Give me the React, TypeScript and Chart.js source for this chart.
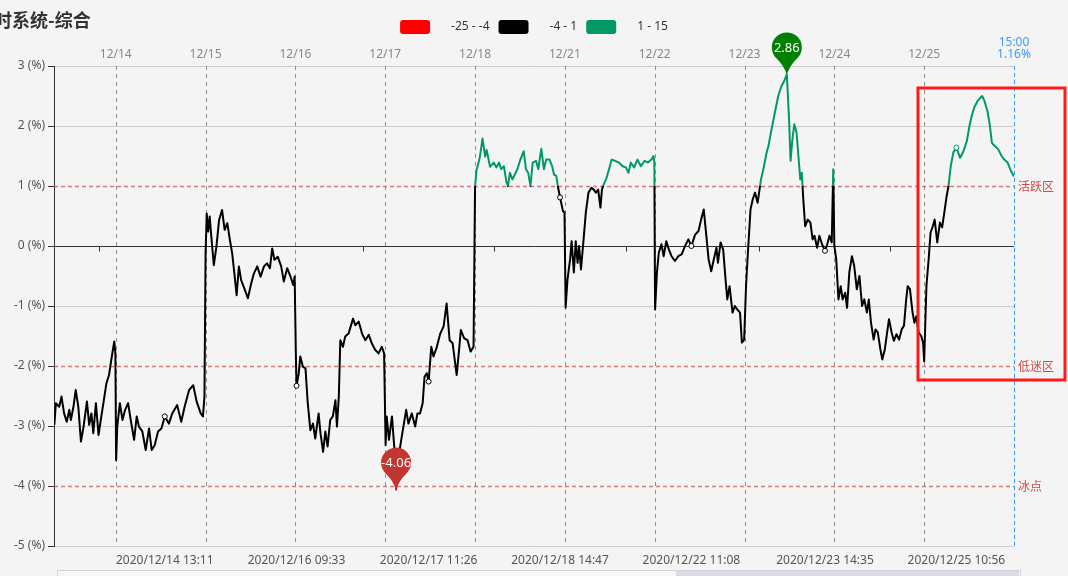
import React, { useEffect, useRef } from "react";
import { Chart, registerables } from "chart.js";

Chart.register(...registerables);

const FONT = '"Noto Sans", "Noto Sans CJK SC", sans-serif';
const CJK = '"Noto Sans CJK SC", "Noto Sans", sans-serif';

const titleText = "时系统-综合";

// top axis: trading-day starts (minutes since 12/14 09:30, 240 trading minutes per day)
const dayLabels = ["12/14", "12/15", "12/16", "12/17", "12/18", "12/21", "12/22", "12/23", "12/24", "12/25"];
const dayStarts = [0, 240, 480, 720, 960, 1200, 1440, 1680, 1920, 2160];

// bottom axis
const tickTimes = [131, 483, 836, 1187, 1538, 1895, 2246];
const tickLabels = [
  "2020/12/14 13:11",
  "2020/12/16 09:33",
  "2020/12/17 11:26",
  "2020/12/18 14:47",
  "2020/12/22 11:08",
  "2020/12/23 14:35",
  "2020/12/25 10:56",
];

// visual map pieces
const pieceLabels = ["-25 - -4", "-4 - 1", "1 - 15"];
const pieceBounds = [-25, -4, 1, 15];
const pieceColors = ["#ff0000", "#000000", "#009966"];

// reference levels
const levelValues = [1, -2, -4];
const levelLabels = ["活跃区", "低迷区", "冰点"];

const endTime = "15:00";
const xMin = -165;
const xMax = 2400;

// series: minute index and value (%)
const minuteIndex = [
  // 12/11 (tail)
  -164, -160, -151, -145, -138, -131, -124, -120, -113, -107, -100, -93, -86, -77, -71, -65, -60, -53, -46, -40, -33, -25, -18, -12, -4, -1,
  // 12/14
  1, 4, 11, 18, 25, 33, 40, 49, 56, 62, 71, 80, 89, 96, 104, 113, 122, 131, 142, 151, 164, 175, 184, 196, 207, 216, 227, 233, 237,
  // 12/15
  240, 243, 247, 251, 255, 262, 269, 276, 284, 291, 298, 305, 311, 317, 323, 329, 335, 342, 353, 362, 369, 378, 387, 396, 404, 412, 418, 424, 433, 442, 449, 458, 467, 474, 478,
  // 12/16
  481, 483, 489, 493, 500, 507, 513, 520, 527, 533, 542, 547, 554, 560, 566, 573, 580, 587, 591, 596, 600, 607, 613, 622, 634, 640, 649, 658, 667, 676, 684, 693, 702, 711, 717,
  // 12/17
  721, 724, 730, 738, 744, 749, 760, 767, 776, 782, 791, 800, 806, 813, 820, 825, 831, 836, 843, 849, 858, 867, 876, 884, 892, 900, 907, 911, 918, 922, 931, 940, 948, 956,
  // 12/18
  960, 964, 969, 973, 980, 987, 991, 1000, 1010, 1017, 1024, 1030, 1037, 1044, 1048, 1053, 1060, 1066, 1073, 1081, 1090, 1096, 1102, 1108, 1114, 1123, 1129, 1137, 1144, 1150, 1159, 1166, 1171, 1177, 1182, 1187, 1195, 1199,
  // 12/21
  1202, 1207, 1214, 1218, 1224, 1229, 1234, 1238, 1243, 1250, 1256, 1263, 1271, 1277, 1283, 1289, 1295, 1299, 1304, 1310, 1318, 1325, 1334, 1345, 1354, 1363, 1370, 1376, 1385, 1394, 1403, 1413, 1422, 1431, 1437, 1439,
  // 12/22
  1441, 1446, 1451, 1458, 1464, 1471, 1478, 1485, 1494, 1503, 1512, 1521, 1530, 1538, 1548, 1557, 1564, 1571, 1578, 1584, 1591, 1598, 1605, 1609, 1616, 1623, 1630, 1634, 1640, 1648, 1654, 1661, 1668, 1673, 1679,
  // 12/23
  1684, 1688, 1696, 1702, 1708, 1715, 1724, 1732, 1738, 1744, 1752, 1761, 1770, 1779, 1786, 1793, 1799, 1803, 1808, 1813, 1819, 1824, 1829, 1833, 1837, 1842, 1849, 1856, 1862, 1867, 1874, 1880, 1887, 1895, 1901, 1907, 1913, 1917,
  // 12/24
  1920, 1925, 1931, 1937, 1942, 1949, 1954, 1960, 1967, 1973, 1980, 1987, 1994, 2000, 2007, 2012, 2018, 2025, 2030, 2036, 2043, 2048, 2055, 2061, 2066, 2073, 2079, 2086, 2093, 2100, 2106, 2112, 2116, 2122, 2129, 2134, 2139, 2145, 2152, 2157,
  // 12/25
  2160, 2166, 2172, 2177, 2183, 2188, 2195, 2202, 2208, 2215, 2220, 2225, 2231, 2238, 2246, 2256, 2265, 2274, 2281, 2287, 2294, 2303, 2310, 2315, 2321, 2329, 2335, 2341, 2348, 2358, 2367, 2374, 2383, 2392, 2400,
];

const indexValues = [
  // 12/11 (tail)
  -2.98, -2.62, -2.68, -2.51, -2.79, -2.93, -2.73, -2.9, -2.68, -2.4, -2.68, -3.26, -3.01, -2.59, -2.98, -2.79, -3.12, -2.62, -3.15, -2.9, -2.62, -2.29, -2.15, -1.9, -1.59, -1.79,
  // 12/14
  -3.57, -3.01, -2.62, -2.9, -2.73, -2.62, -2.9, -3.23, -2.84, -3.01, -3.09, -3.4, -3.04, -3.4, -3.32, -3.09, -3.04, -2.84, -2.96, -2.79, -2.65, -2.93, -2.68, -2.4, -2.32, -2.59, -2.79, -2.84, -2.51,
  // 12/15
  -0.12, 0.54, 0.24, 0.49, 0.18, -0.32, -0.01, 0.43, 0.6, 0.27, 0.38, 0.1, -0.12, -0.46, -0.82, -0.34, -0.57, -0.68, -0.87, -0.62, -0.46, -0.34, -0.51, -0.34, -0.29, -0.37, -0.04, -0.23, -0.18, -0.34, -0.59, -0.37, -0.51, -0.65, -0.51,
  // 12/16
  -1.73, -2.33, -2.12, -1.84, -2.01, -2.04, -2.62, -3.07, -2.96, -3.21, -2.79, -3.12, -3.43, -3.09, -3.34, -2.9, -2.84, -2.57, -3.01, -2.51, -1.57, -1.68, -1.51, -1.46, -1.21, -1.32, -1.26, -1.46, -1.57, -1.48, -1.62, -1.73, -1.79, -1.68, -1.79,
  // 12/17
  -3.32, -2.84, -3.23, -2.84, -3.34, -4.06, -3.34, -3.07, -2.73, -2.96, -2.79, -3.01, -2.79, -2.79, -2.62, -2.18, -2.12, -2.26, -1.68, -1.84, -1.68, -1.46, -1.34, -0.96, -1.57, -1.62, -1.96, -2.15, -1.68, -1.4, -1.54, -1.57, -1.76, -1.68,
  // 12/18
  0.99, 1.27, 1.38, 1.49, 1.79, 1.49, 1.6, 1.32, 1.39, 1.31, 1.39, 1.28, 1.33, 1.06, 1.0, 1.22, 1.11, 1.19, 1.28, 1.44, 1.58, 1.28, 1.22, 1.0, 1.39, 1.42, 1.28, 1.62, 1.28, 1.44, 1.44, 1.33, 1.19, 1.17, 0.97, 0.81, 0.58, 0.56,
  // 12/21
  -1.03, -0.56, -0.22, 0.08, -0.44, 0.08, -0.28, 0.0, -0.39, 0.11, 0.56, 0.89, 0.97, 0.94, 0.89, 0.94, 0.64, 0.94, 1.03, 1.11, 1.28, 1.44, 1.42, 1.39, 1.33, 1.31, 1.22, 1.39, 1.31, 1.44, 1.33, 1.42, 1.39, 1.44, 1.5, 1.39,
  // 12/22
  -1.06, -0.44, -0.11, 0.03, -0.17, 0.08, -0.06, -0.17, -0.25, -0.17, -0.14, 0.0, 0.11, 0.0, 0.19, 0.25, 0.44, 0.61, 0.17, -0.22, -0.42, -0.22, -0.03, -0.28, 0.06, -0.06, -0.61, -0.89, -0.67, -1.11, -1.0, -1.06, -1.11, -1.61, -1.56,
  // 12/23
  -0.67, -0.22, 0.61, 0.78, 0.89, 0.72, 1.11, 1.33, 1.53, 1.67, 1.94, 2.22, 2.5, 2.67, 2.75, 2.86, 2.11, 1.42, 1.78, 2.03, 1.89, 1.5, 1.11, 1.22, 0.78, 0.33, 0.44, 0.39, 0.11, 0.17, -0.03, 0.17, 0.03, -0.08, 0.03, 0.17, 0.06, 1.28,
  // 12/24
  0.0, -0.22, -0.89, -0.67, -0.89, -0.78, -1.03, -0.44, -0.17, -0.33, -0.72, -0.5, -1.0, -0.89, -1.11, -0.89, -1.28, -1.56, -1.39, -1.44, -1.72, -1.89, -1.72, -1.44, -1.22, -1.44, -1.58, -1.47, -1.56, -1.39, -1.33, -0.89, -0.67, -0.72, -1.11, -1.28, -1.17, -1.44, -1.5, -1.61,
  // 12/25
  -1.92, -0.67, -0.22, 0.22, 0.33, 0.44, 0.06, 0.39, 0.31, 0.61, 0.83, 1.0, 1.33, 1.56, 1.64, 1.47, 1.58, 1.75, 2.0, 2.17, 2.31, 2.42, 2.47, 2.5, 2.42, 2.25, 2.03, 1.72, 1.67, 1.61, 1.5, 1.44, 1.39, 1.25, 1.16,
];

const BG = "#f4f4f4";
const DAY_LINE = "#8f8f8f";
const LEVEL_LINE = "rgba(205, 80, 80, 0.75)";
const LEVEL_TEXT = "#d24a4a";
const BLUE = "#3a9bff";
const PIN_MIN = "#c23531";
const PIN_MAX = "#008000";

function colorFor(v: number) {
  for (let i = 0; i < pieceColors.length; i++) {
    if (v <= pieceBounds[i + 1]) return pieceColors[i];
  }
  return pieceColors[pieceColors.length - 1];
}

function drawPin(ctx: CanvasRenderingContext2D, x: number, y: number, color: string, text: string) {
  const r = 15;
  const cy = y - 27;
  const phi = 0.72;
  ctx.save();
  ctx.fillStyle = color;
  ctx.beginPath();
  ctx.arc(x, cy, r, Math.PI / 2 + phi, Math.PI / 2 - phi + Math.PI * 2);
  ctx.quadraticCurveTo(x + 3, cy + r + 3, x, y);
  ctx.quadraticCurveTo(x - 3, cy + r + 3, x - r * Math.sin(phi), cy + r * Math.cos(phi));
  ctx.closePath();
  ctx.fill();
  ctx.fillStyle = "#ffffff";
  ctx.font = `13px ${FONT}`;
  ctx.textAlign = "center";
  ctx.textBaseline = "middle";
  ctx.fillText(text, x, cy + 1);
  ctx.restore();
}

const decorPlugin = {
  id: "decor",
  beforeDraw(chart: any) {
    const { ctx, width, height } = chart;
    ctx.save();
    ctx.fillStyle = BG;
    ctx.fillRect(0, 0, width, height);

    // title (cropped at left edge)
    ctx.fillStyle = "#333333";
    ctx.font = `bold 18px ${CJK}`;
    ctx.textAlign = "left";
    ctx.textBaseline = "middle";
    ctx.fillText(titleText, -6, 20);

    // legend
    ctx.font = `12px ${FONT}`;
    const boxW = 30, boxH = 14, gapBT = 21, gapTB = 9;
    const widths = pieceLabels.map((l) => ctx.measureText(l).width);
    let total = 0;
    widths.forEach((w, i) => {
      total += boxW + gapBT + w + (i < widths.length - 1 ? gapTB : 0);
    });
    let x = (width - total) / 2;
    const ly = 27;
    pieceLabels.forEach((l, i) => {
      ctx.fillStyle = pieceColors[i];
      ctx.beginPath();
      if ((ctx as any).roundRect) (ctx as any).roundRect(x, ly - boxH / 2, boxW, boxH, 3);
      else ctx.rect(x, ly - boxH / 2, boxW, boxH);
      ctx.fill();
      x += boxW + gapBT;
      ctx.fillStyle = "#333333";
      ctx.textBaseline = "middle";
      ctx.fillText(l, x, ly);
      x += widths[i] + gapTB;
    });
    ctx.restore();
  },
  beforeDatasetsDraw(chart: any) {
    const { ctx, chartArea: a, scales } = chart;
    const ys = scales.y;
    const xs = scales.x;
    const xt = scales.xTop;
    ctx.save();
    // day separator lines (dashed grey) at top-axis ticks
    ctx.strokeStyle = DAY_LINE;
    ctx.lineWidth = 1;
    ctx.setLineDash([4, 4]);
    dayStarts.forEach((t) => {
      const px = Math.round(xt.getPixelForValue(t)) + 0.5;
      ctx.beginPath();
      ctx.moveTo(px, a.top);
      ctx.lineTo(px, a.bottom);
      ctx.stroke();
    });
    ctx.setLineDash([]);
    // zero-axis small ticks
    const y0 = Math.round(ys.getPixelForValue(0)) + 0.5;
    ctx.strokeStyle = "#333333";
    ctx.lineWidth = 1;
    tickTimes.forEach((t) => {
      const px = Math.round(xs.getPixelForValue(t - 176)) + 0.5;
      ctx.beginPath();
      ctx.moveTo(px, y0);
      ctx.lineTo(px, y0 + 5);
      ctx.stroke();
    });
    // level lines + labels
    levelValues.forEach((v, i) => {
      const y = Math.round(ys.getPixelForValue(v)) + 0.5;
      ctx.strokeStyle = LEVEL_LINE;
      ctx.lineWidth = 1.5;
      ctx.setLineDash([4, 3]);
      ctx.beginPath();
      ctx.moveTo(a.left, y);
      ctx.lineTo(a.right, y);
      ctx.stroke();
      ctx.setLineDash([]);
      ctx.fillStyle = LEVEL_TEXT;
      ctx.font = `12px ${CJK}`;
      ctx.textAlign = "left";
      ctx.textBaseline = "middle";
      ctx.fillText(levelLabels[i], a.right + 4, y);
    });
    // end line (blue)
    const ex = Math.round(xs.getPixelForValue(xMax)) + 0.5;
    ctx.strokeStyle = BLUE;
    ctx.lineWidth = 1;
    ctx.setLineDash([4, 3]);
    ctx.beginPath();
    ctx.moveTo(ex, a.top);
    ctx.lineTo(ex, a.bottom);
    ctx.stroke();
    ctx.setLineDash([]);
    ctx.restore();
  },
  afterDraw(chart: any) {
    const { ctx, chartArea: a, scales } = chart;
    const xs = scales.x;
    const ys = scales.y;
    ctx.save();
    // end label
    const last = indexValues[indexValues.length - 1];
    const ex = xs.getPixelForValue(xMax);
    ctx.fillStyle = BLUE;
    ctx.font = `12px ${FONT}`;
    ctx.textAlign = "center";
    ctx.textBaseline = "middle";
    ctx.fillText(endTime, ex, 43);
    ctx.fillText(`${last.toFixed(2)}%`, ex, 55);

    // max / min pins
    let iMax = 0, iMin = 0;
    indexValues.forEach((v, i) => {
      if (v > indexValues[iMax]) iMax = i;
      if (v < indexValues[iMin]) iMin = i;
    });
    drawPin(ctx, xs.getPixelForValue(minuteIndex[iMin]), ys.getPixelForValue(indexValues[iMin]), PIN_MIN, indexValues[iMin].toFixed(2));
    drawPin(ctx, xs.getPixelForValue(minuteIndex[iMax]), ys.getPixelForValue(indexValues[iMax]), PIN_MAX, indexValues[iMax].toFixed(2));

    // highlight box around the last day
    ctx.strokeStyle = "#ff1a1a";
    ctx.lineWidth = 3;
    ctx.strokeRect(918, 88, 147, 292);

    // data zoom slider strip at bottom
    ctx.fillStyle = "#f7f7f7";
    ctx.fillRect(57, 570, a.right + 6 - 57, 8);
    ctx.strokeStyle = "#d4d4d4";
    ctx.lineWidth = 1;
    ctx.strokeRect(57.5, 570.5, a.right + 6 - 57, 8);
    ctx.fillStyle = "#d8dde6";
    ctx.fillRect(676, 571, a.right + 5 - 676, 7);
    ctx.restore();
  },
};

export default function App() {
  const ref = useRef<HTMLCanvasElement>(null);

  useEffect(() => {
    document.body.style.margin = "0";
    document.body.style.background = BG;
    const canvas = ref.current;
    if (!canvas) return;
    const pts = minuteIndex.map((m, i) => ({ x: m, y: indexValues[i] }));

    const chart = new Chart(canvas, {
      type: "line",
      data: {
        datasets: [
          {
            data: pts,
            borderWidth: 2,
            tension: 0,
            fill: false,
            borderJoinStyle: "round",
            borderColor: (c: any) => {
              const ch = c.chart;
              const area = ch.chartArea;
              if (!area) return "#000000";
              const ys = ch.scales.y;
              const top = area.top, bottom = area.bottom;
              const g = ch.ctx.createLinearGradient(0, top, 0, bottom);
              const p1 = Math.min(1, Math.max(0, (ys.getPixelForValue(pieceBounds[2]) - top) / (bottom - top)));
              const p2 = Math.min(1, Math.max(0, (ys.getPixelForValue(pieceBounds[1]) - top) / (bottom - top)));
              g.addColorStop(0, pieceColors[2]);
              g.addColorStop(p1, pieceColors[2]);
              g.addColorStop(p1, pieceColors[1]);
              g.addColorStop(p2, pieceColors[1]);
              g.addColorStop(p2, pieceColors[0]);
              g.addColorStop(1, pieceColors[0]);
              return g;
            },
            pointRadius: (c: any) => (c.raw && tickTimes.includes(c.raw.x) ? 2.5 : 0),
            pointHoverRadius: 0,
            pointBackgroundColor: "#ffffff",
            pointBorderWidth: 1,
            pointBorderColor: (c: any) => (c.raw ? colorFor(c.raw.y) : "#000000"),
          } as any,
        ],
      },
      options: {
        responsive: false,
        animation: false,
        devicePixelRatio: 1,
        events: [],
        layout: { padding: { left: 0, right: 54, top: 0, bottom: 0 } },
        plugins: {
          legend: { display: false },
          tooltip: { enabled: false },
          title: { display: false },
        },
        scales: {
          x: {
            type: "linear",
            position: "bottom",
            min: xMin,
            max: xMax,
            afterBuildTicks: (s: any) => {
              s.ticks = tickTimes.map((v) => ({ value: v }));
            },
            afterFit: (s: any) => {
              s.height = 30;
            },
            ticks: {
              autoSkip: false,
              maxRotation: 0,
              padding: 7,
              color: "#555555",
              font: { size: 12, family: FONT },
              callback: (v: any) => tickLabels[tickTimes.indexOf(Number(v))] ?? "",
            },
            grid: { display: false, drawTicks: false },
            border: { display: false },
          },
          xTop: {
            type: "linear",
            position: "top",
            min: xMin,
            max: xMax,
            afterBuildTicks: (s: any) => {
              s.ticks = dayStarts.map((v) => ({ value: v }));
            },
            afterFit: (s: any) => {
              s.height = 66;
            },
            ticks: {
              autoSkip: false,
              maxRotation: 0,
              padding: 4,
              color: "#888888",
              font: { size: 12, family: FONT },
              callback: (v: any) => dayLabels[dayStarts.indexOf(Number(v))] ?? "",
            },
            grid: { display: false, drawOnChartArea: false, drawTicks: false },
            border: { display: false },
          },
          y: {
            type: "linear",
            min: -5,
            max: 3,
            afterFit: (s: any) => {
              s.width = 54;
            },
            ticks: {
              stepSize: 1,
              padding: 3,
              color: "#555555",
              font: { size: 12, family: FONT },
              callback: (v: any) => `${v} (%)`,
            },
            grid: {
              tickLength: 6,
              tickColor: "#333333",
              color: (c: any) => {
                const v = c.tick ? c.tick.value : null;
                if (v === 0) return "#333333";
                if (levelValues.includes(v)) return "rgba(0,0,0,0)";
                return "#cccccc";
              },
            },
            border: { display: true, color: "#333333", width: 1 },
          },
        },
      } as any,
      plugins: [decorPlugin],
    });

    return () => chart.destroy();
  }, []);

  return (
    <div style={{ position: "fixed", left: 0, top: 0, width: 1068, height: 576, background: BG }}>
      <canvas ref={ref} width={1068} height={576} style={{ display: "block", width: 1068, height: 576 }} />
    </div>
  );
}
